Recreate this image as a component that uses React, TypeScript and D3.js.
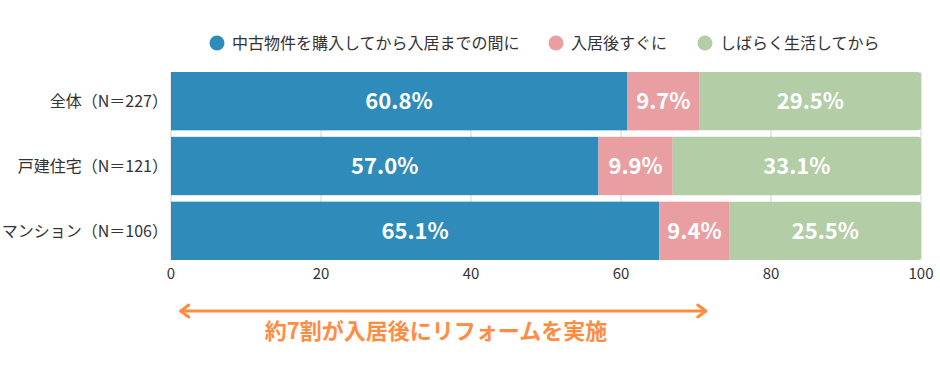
import * as d3 from 'd3';

// categories (top to bottom)
const categories = ['全体（N＝227）', '戸建住宅（N＝121）', 'マンション（N＝106）'];
// series
const seriesNames = ['中古物件を購入してから入居までの間に', '入居後すぐに', 'しばらく生活してから'];
const beforeMoveIn = [60.8, 57.0, 65.1];
const rightAfter = [9.7, 9.9, 9.4];
const afterLiving = [29.5, 33.1, 25.5];
const colors = ['#2E8BBA', '#E99EA1', '#B3CDA6'];
const xTicks = [0, 20, 40, 60, 80, 100];

const annotation = '約7割が入居後にリフォームを実施';
const annotationRange = [1.3, 71.3];

const FONT = "'Noto Sans CJK JP', 'Noto Sans', sans-serif";

export default function App() {
  const width = 940;
  const height = 372;
  const marginLeft = 171;
  const marginRight = 19;

  const x = d3.scaleLinear().domain([0, 100]).range([marginLeft, width - marginRight]);
  const y = d3.scaleBand<string>().domain(categories).range([72, 260]).paddingInner(0.1).paddingOuter(0);

  const rows = categories.map((c, i) => {
    const vals = [beforeMoveIn[i], rightAfter[i], afterLiving[i]];
    let acc = 0;
    return vals.map((v, k) => {
      const seg = { cat: c, k, v, x0: acc, x1: acc + v };
      acc += v;
      return seg;
    });
  });

  const legendX = [217, 556, 705];
  const bw = y.bandwidth();
  const axisY = 260;
  const arrowY = 311;
  const ax0 = x(annotationRange[0]);
  const ax1 = x(annotationRange[1]);

  return (
    <svg width={width} height={height} style={{ display: 'block', position: 'absolute', left: 0, top: 0 }} fontFamily={FONT}>
      <rect width={width} height={height} fill="#fff" />
      {/* legend */}
      {seriesNames.map((s, k) => (
        <g key={s}>
          <circle cx={legendX[k]} cy={43} r={7.5} fill={colors[k]} />
          <text x={legendX[k] + 15} y={49} fontSize={16} fill="#333">{s}</text>
        </g>
      ))}
      {/* grid */}
      {xTicks.map(t => (
        <line key={t} x1={x(t)} x2={x(t)} y1={72} y2={axisY} stroke="#d4d4d4" strokeWidth={1} />
      ))}
      {/* bars */}
      {rows.map((segs, i) => (
        <g key={categories[i]}>
          {segs.map(s => {
            const x0 = x(s.x0);
            const x1 = x(Math.min(s.x1, 100));
            const y0 = y(s.cat)!;
            const last = s.k === segs.length - 1;
            return (
              <g key={s.k}>
                {last ? (
                  <path
                    d={`M${x0},${y0}H${x1 - 3}Q${x1},${y0} ${x1},${y0 + 3}V${y0 + bw - 3}Q${x1},${y0 + bw} ${x1 - 3},${y0 + bw}H${x0}Z`}
                    fill={colors[s.k]}
                  />
                ) : (
                  <rect x={x0} y={y0} width={x1 - x0} height={bw} fill={colors[s.k]} />
                )}
                <text
                  x={(x0 + x1) / 2}
                  y={y0 + bw / 2 + 8}
                  textAnchor="middle"
                  fontSize={22}
                  fontWeight="bold"
                  fill="#fff"
                >
                  {s.v.toFixed(1)}%
                </text>
              </g>
            );
          })}
          <text x={168} y={y(categories[i])! + bw / 2 + 6} textAnchor="end" fontSize={16} fill="#333">
            {categories[i]}
          </text>
        </g>
      ))}
      {/* x axis labels */}
      {xTicks.map(t => (
        <text key={t} x={x(t)} y={279} textAnchor="middle" fontSize={15} fill="#333">{t}</text>
      ))}
      {/* annotation */}
      <g stroke="#FF8C42" strokeWidth={3} fill="none" strokeLinecap="round" strokeLinejoin="round">
        <line x1={ax0} x2={ax1} y1={arrowY} y2={arrowY} />
        <polyline points={`${ax0 + 8},${arrowY - 6} ${ax0},${arrowY} ${ax0 + 8},${arrowY + 6}`} />
        <polyline points={`${ax1 - 8},${arrowY - 6} ${ax1},${arrowY} ${ax1 - 8},${arrowY + 6}`} />
      </g>
      <text x={436} y={339} textAnchor="middle" fontSize={22} fontWeight="bold" fill="#FF8C42">{annotation}</text>
    </svg>
  );
}
